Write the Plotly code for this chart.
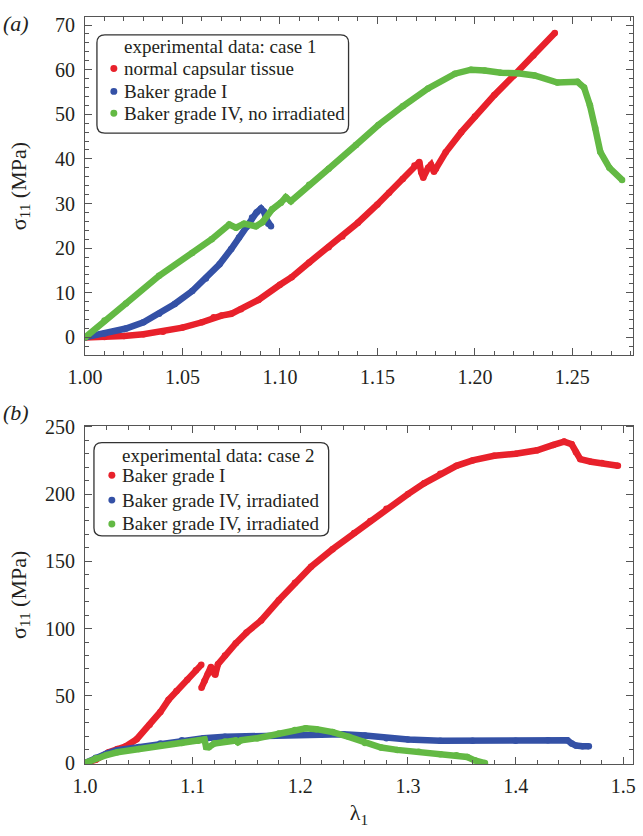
import plotly.graph_objects as go

# ---------------- data: panel (a) ----------------
a_red_x = [1.000, 1.010, 1.020, 1.030, 1.040, 1.050, 1.060, 1.066, 1.070, 1.075, 1.080, 1.089,
           1.100, 1.106, 1.115, 1.125, 1.132, 1.140, 1.150, 1.156, 1.163, 1.169, 1.1715, 1.1725,
           1.1735, 1.176, 1.1775, 1.1790, 1.1800, 1.185, 1.193, 1.200, 1.210, 1.220, 1.230, 1.241]
a_red_y = [0, 0.1, 0.3, 0.7, 1.3, 2.2, 3.4, 4.5, 4.9, 5.3, 6.3, 8.4,
           11.8, 13.5, 16.8, 20.2, 22.6, 25.7, 29.8, 32.4, 35.5, 38.5, 39.3, 37.0,
           35.8, 38.0, 38.7, 37.1, 37.8, 41.5, 46.0, 49.5, 54.3, 58.7, 63.2, 68.2]

a_blue_x = [1.000, 1.010, 1.021, 1.030, 1.038, 1.046, 1.055, 1.062, 1.069, 1.075, 1.079, 1.083,
            1.0857, 1.088, 1.0903, 1.0918, 1.093, 1.094, 1.0954]
a_blue_y = [0, 0.9, 2.0, 3.4, 5.3, 7.5, 10.4, 13.2, 16.4, 19.8, 22.4, 24.8,
            26.9, 28.0, 28.9, 28.2, 26.5, 25.5, 24.9]

a_green_x = [1.000, 1.010, 1.021, 1.038, 1.055, 1.065, 1.074, 1.0775, 1.0816, 1.0877, 1.091,
             1.096, 1.1005, 1.103, 1.1056, 1.115, 1.125, 1.139, 1.1505, 1.163, 1.176, 1.1898,
             1.198, 1.205, 1.2133, 1.222, 1.2306, 1.2423, 1.2526, 1.256, 1.259, 1.2617, 1.2643,
             1.269, 1.2755]
a_green_y = [0, 3.8, 7.6, 13.8, 18.9, 22.0, 25.3, 24.6, 25.5, 24.9, 25.8,
             28.7, 30.2, 31.4, 30.5, 34.2, 37.8, 43.1, 47.6, 51.8, 55.8, 59.1,
             60.0, 59.8, 59.3, 59.2, 58.7, 57.1, 57.3, 56.0, 52.0, 46.9, 41.6,
             38.0, 35.3]

a_names = ["normal capsular tissue", "Baker grade I", "Baker grade IV, no irradiated"]
a_legend_title = "experimental data: case 1"

# ---------------- data: panel (b) ----------------
b_red_x = [1.000, 1.010, 1.022, 1.030, 1.038, 1.048, 1.060, 1.070, 1.0776, 1.085, 1.095, 1.103,
           1.108, None, 1.1082, 1.111, 1.114, 1.117, 1.119, 1.121, 1.1235, 1.130, 1.140, 1.150,
           1.1636, 1.180, 1.195, 1.210, 1.230, 1.250, 1.265, 1.280, 1.300, 1.315, 1.330, 1.345,
           1.360, 1.380, 1.400, 1.420, 1.435, 1.445, 1.452, 1.456, 1.460, 1.470, 1.480, 1.495]
b_red_y = [0, 2.5, 8.0, 10.5, 12.5, 17.7, 28.5, 38.0, 47.0, 53.5, 62.0, 69.0,
           73.0, None, 56.0, 61.0, 66.0, 71.5, 67.5, 65.6, 73.5, 80.0, 89.0, 97.0,
           106.0, 121.0, 134.0, 146.0, 159.0, 171.0, 180.0, 189.0, 200.0, 208.0, 215.0, 221.0,
           225.0, 228.5, 230.0, 232.5, 236.5, 239.0, 237.0, 231.0, 226.0, 224.0, 223.0, 221.0]

b_blue_x = [1.000, 1.010, 1.020, 1.030, 1.050, 1.070, 1.090, 1.110, 1.130, 1.150, 1.180, 1.200,
            1.220, 1.240, 1.260, 1.280, 1.300, 1.330, 1.360, 1.400, 1.430, 1.448, 1.452, 1.456,
            1.462, 1.468]
b_blue_y = [0, 4.0, 7.0, 9.5, 12.0, 14.5, 17.0, 18.5, 19.5, 20.0, 21.0, 21.5,
            21.5, 21.5, 20.5, 18.5, 17.5, 16.5, 16.5, 16.5, 17.0, 17.0, 14.5, 13.0,
            12.5, 12.5]

b_green_x = [1.000, 1.010, 1.020, 1.030, 1.050, 1.070, 1.090, 1.105, 1.111, 1.1125, 1.115, 1.120,
             1.130, 1.140, 1.142, 1.145, 1.160, 1.180, 1.195, 1.205, 1.215, 1.230, 1.245, 1.260,
             1.275, 1.290, 1.310, 1.330, 1.345, 1.355, 1.362, 1.3715]
b_green_y = [0, 3.5, 6.0, 8.0, 10.5, 13.0, 15.0, 16.5, 17.5, 12.0, 11.8, 14.5,
             16.0, 16.8, 15.5, 17.0, 18.5, 22.0, 24.5, 25.8, 25.2, 23.0, 19.5, 15.0,
             11.5, 9.8, 8.5, 6.6, 5.8, 4.5, 2.0, 0.0]

b_names = ["Baker grade I", "Baker grade IV, irradiated", "Baker grade IV, irradiated"]
b_legend_title = "experimental data: case 2"

colors = ["#e8212b", "#3451a6", "#63b944"]

# ---------------- layout geometry (page pixels; body margin removed) ----------------
FW, FH = 643, 836
ML, MR, MT, MB = 85, 7, 11, 72
PW, PH = FW - ML - MR, FH - MT - MB


def px(x):
    return (x - ML) / PW


def py(y):
    return (FH - MB - y) / PH


FONT = "Liberation Serif"
TXT = "#231f20"
AX = "#555555"

fig = go.Figure()

panels = [
    ("x", "y", [(a_red_x, a_red_y), (a_blue_x, a_blue_y), (a_green_x, a_green_y)], a_names),
    ("x2", "y2", [(b_red_x, b_red_y), (b_blue_x, b_blue_y), (b_green_x, b_green_y)], b_names),
]
for xa, ya, series, names in panels:
    for (xs, ys), name, c in zip(series, names, colors):
        fig.add_trace(go.Scatter(
            x=xs, y=ys, name=name, mode="lines+markers", xaxis=xa, yaxis=ya,
            line=dict(color=c, width=6.5), marker=dict(color=c, size=6.5),
            connectgaps=False, showlegend=False, hoverinfo="skip"))


def axis_common(standoff):
    return dict(
        showline=True, linecolor=AX, linewidth=1, mirror="allticks",
        ticks="inside", ticklen=7, tickcolor=AX, tickwidth=1,
        showgrid=False, zeroline=False, ticklabelstandoff=standoff,
        tickfont=dict(family=FONT, size=20, color=TXT),
    )


def minor(d):
    return dict(dtick=d, tick0=0, ticks="inside", ticklen=4, tickcolor=AX, showgrid=False)


title_font = dict(family=FONT, size=22, color=TXT)

fig.update_layout(
    width=FW, height=FH,
    margin=dict(l=ML, r=MR, t=MT, b=MB),
    paper_bgcolor="white", plot_bgcolor="white",
    font=dict(family=FONT, color=TXT),
    showlegend=False,
    xaxis=dict(domain=[0, 1], anchor="y", range=[1.0, 1.2811], tickvals=[1.00, 1.05, 1.10, 1.15, 1.20, 1.25],
               ticktext=["1.00", "1.05", "1.10", "1.15", "1.20", "1.25"],
               minor=minor(0.01), **axis_common(4)),
    yaxis=dict(domain=[py(352), 1.0], anchor="x", range=[-4.0, 71.8], tickvals=[0, 10, 20, 30, 40, 50, 60, 70],
               minor=minor(2),
               title=dict(text="σ<sub>11</sub> (MPa)", font=title_font, standoff=22),
               **axis_common(5)),
    xaxis2=dict(domain=[0, 1], anchor="y2", range=[1.0, 1.509], tickvals=[1.0, 1.1, 1.2, 1.3, 1.4, 1.5],
                ticktext=["1.0", "1.1", "1.2", "1.3", "1.4", "1.5"],
                minor=minor(0.02),
                title=dict(text="λ<sub>1</sub>", font=title_font, standoff=8),
                **axis_common(4)),
    yaxis2=dict(domain=[0, py(423)], anchor="x2", range=[-0.7, 250.8], tickvals=[0, 50, 100, 150, 200, 250],
                minor=minor(10),
                title=dict(text="σ<sub>11</sub> (MPa)", font=title_font, standoff=12),
                **axis_common(5)),
)


def rounded_box(x0, y0, x1, y1, r=8):
    # page pixel coords -> paper path with rounded corners
    rx, ry = r / PW, r / PH
    X0, X1 = px(x0), px(x1)
    Yt, Yb = py(y0), py(y1)
    return (f"M {X0 + rx},{Yt} L {X1 - rx},{Yt} Q {X1},{Yt} {X1},{Yt - ry} "
            f"L {X1},{Yb + ry} Q {X1},{Yb} {X1 - rx},{Yb} L {X0 + rx},{Yb} "
            f"Q {X0},{Yb} {X0},{Yb + ry} L {X0},{Yt - ry} Q {X0},{Yt} {X0 + rx},{Yt} Z")


legends = [
    dict(box=(97, 29, 350, 128), title=a_legend_title, title_y=41, mx=114, tx=122,
         ys=[63, 86, 108], names=a_names),
    dict(box=(94, 440, 330, 534), title=b_legend_title, title_y=453, mx=112, tx=120,
         ys=[473, 498, 522], names=b_names),
]

shapes = []
annotations = []
for lg in legends:
    x0, y0, x1, y1 = lg["box"]
    shapes.append(dict(type="path", xref="paper", yref="paper", path=rounded_box(x0, y0, x1, y1),
                       line=dict(color="#333333", width=1.3), fillcolor="rgba(255,255,255,0.95)", layer="above"))
    annotations.append(dict(x=px(lg["tx"]), y=py(lg["title_y"]), xref="paper", yref="paper",
                            text=lg["title"], showarrow=False, xanchor="left", yanchor="middle",
                            font=dict(family=FONT, size=19, color=TXT)))
    for yy, name, c in zip(lg["ys"], lg["names"], colors):
        r = 3.5
        shapes.append(dict(type="circle", xref="paper", yref="paper",
                           x0=px(lg["mx"] - r), x1=px(lg["mx"] + r), y0=py(yy + r), y1=py(yy - r),
                           fillcolor=c, line=dict(width=0), layer="above"))
        annotations.append(dict(x=px(lg["tx"]), y=py(yy), xref="paper", yref="paper",
                                text=name, showarrow=False, xanchor="left", yanchor="middle",
                                font=dict(family=FONT, size=19, color=TXT)))

annotations.append(dict(x=px(16), y=py(18), xref="paper", yref="paper", text="<i>(a)</i>", showarrow=False,
                        xanchor="center", yanchor="middle", font=dict(family=FONT, size=22, color=TXT)))
annotations.append(dict(x=px(16), y=py(410), xref="paper", yref="paper", text="<i>(b)</i>", showarrow=False,
                        xanchor="center", yanchor="middle", font=dict(family=FONT, size=22, color=TXT)))

fig.update_layout(shapes=shapes, annotations=annotations)

fig.write_html(
    "out.html",
    config={"displayModeBar": False},
    post_script="document.body.style.margin='0';document.body.style.overflow='hidden';",
)
